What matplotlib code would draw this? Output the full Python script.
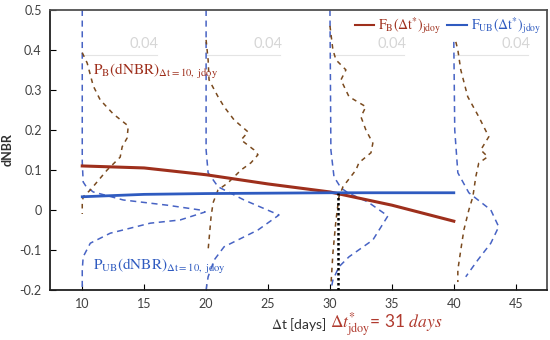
import matplotlib
matplotlib.use("Agg")
import matplotlib.pyplot as plt

plt.rcParams['mathtext.fontset'] = 'stix'
plt.rcParams['font.family'] = ['Lato', 'DejaVu Sans']

# time lags where the distributions are drawn
lags = [10, 20, 30, 40]

# F_B and F_UB curves (dNBR vs lag)
f_days = [10, 15, 20, 25, 30, 35, 40]
f_burned = [0.110, 0.105, 0.088, 0.065, 0.045, 0.012, -0.028]
f_unburned = [0.033, 0.039, 0.041, 0.042, 0.043, 0.043, 0.043]

# burned-pixel dNBR distributions (dNBR level, probability)
pb_y = {
    10: [0.393, 0.367, 0.31, 0.275, 0.24, 0.21, 0.18, 0.158, 0.132, 0.1, 0.05, 0.033, 0.018, -0.01],
    20: [0.425, 0.375, 0.325, 0.283, 0.258, 0.225, 0.195, 0.175, 0.15, 0.138, 0.118, 0.1, 0.068,
         0.05, 0.018, -0.017, -0.1],
    30: [0.46, 0.4, 0.375, 0.35, 0.325, 0.283, 0.258, 0.233, 0.2, 0.167, 0.143, 0.118, 0.1, 0.058,
         0.033, -0.025, -0.108, -0.19],
    40: [0.42, 0.4, 0.35, 0.283, 0.233, 0.183, 0.15, 0.133, 0.117, 0.083, 0.033, 0.0, -0.05, -0.1,
         -0.15, -0.18],
}
pb_p = {
    10: [0, .0032, .0071, .0116, .02, .0297, .029, .0258, .0245, .0161, .0052, .0006, 0, 0],
    20: [0, .0013, .0019, .0077, .0116, .0181, .0271, .0226, .031, .0335, .029, .0226, .0142,
         .0077, .0045, .0032, .0013],
    30: [0, .0019, .0039, .0103, .0071, .0123, .0232, .02, .0232, .0277, .0265, .0187, .0168,
         .0084, .0058, .0039, .0019, .0006],
    40: [.0013, .0026, .0045, .009, .0161, .0226, .0174, .0219, .0161, .0142, .0123, .0097,
         .0065, .0045, .0026, .0026],
}

# unburned-pixel dNBR distributions
pub_y = {
    10: [0.5, 0.12, 0.07, 0.058, 0.045, 0.025, 0.012, 0.0, -0.005, -0.025, -0.033, -0.058, -0.083,
         -0.117, -0.15, -0.2],
    20: [0.5, 0.15, 0.093, 0.058, 0.025, -0.0125, -0.05, -0.092, -0.125, -0.167, -0.2],
    30: [0.5, 0.15, 0.083, 0.055, 0.043, 0.02, -0.015, -0.075, -0.117, -0.142, -0.175, -0.2],
    40: [0.42, 0.2, 0.093, 0.043, 0.0, -0.042, -0.083, -0.125, -0.167],
}
pub_p = {
    10: [0, 0, .0006, .0026, .0071, .0265, .0548, .0761, .0794, .0632, .0439, .0181, .0052, .0006, 0, 0],
    20: [0, 0, .0013, .0077, .0245, .0471, .0335, .0116, .0052, .0013, 0],
    30: [0, .0006, .0026, .0071, .0116, .0245, .0374, .0277, .0123, .0058, .0019, .0006],
    40: [0, .0006, .0026, .0097, .0239, .029, .0239, .0155, .0077],
}

# width in days of one unit of probability
p_scale = 5 / 0.04
optimal_lag = 30.65

red = '#9e2f1c'
blue = '#2f5bc0'
brown_d = '#7a4a1e'
blue_d = '#4763c4'

fig = plt.figure(figsize=(5.5, 3.4), dpi=100)
ax = fig.add_axes([0.091, 0.147, 0.903, 0.824])

# faint probability axes
for t in lags:
    ax.plot([t, t + 6], [0.387, 0.387], color='#e4e4e4', lw=0.8, zorder=0)
    ax.text(t + 5, 0.415, '0.04', color='#d6d6d6', fontsize=10.5, ha='center', va='center', zorder=0)

for t in lags:
    ax.plot([t + p * p_scale for p in pub_p[t]], pub_y[t], color=blue_d, lw=1.1,
            dashes=(4, 3), zorder=2)
    ax.plot([t + p * p_scale for p in pb_p[t]], pb_y[t], color=brown_d, lw=1.1,
            dashes=(3, 3), zorder=2)

ax.plot(f_days, f_burned, color=red, lw=2.2, zorder=3,
        label=r'$\mathrm{F_{B}(\Delta t^{*})_{jdoy}}$')
ax.plot(f_days, f_unburned, color=blue, lw=2.0, zorder=3,
        label=r'$\mathrm{F_{UB}(\Delta t^{*})_{jdoy}}$')

ax.plot([optimal_lag, optimal_lag], [-0.2, 0.043], color='black', lw=1.8,
        linestyle=(0, (1, 1)), zorder=4)

ax.text(10.9, 0.345, r'$\mathrm{P_{B}(dNBR)_{\Delta t=10,\ jdoy}}$', color=red, fontsize=11,
        va='center')
ax.text(10.9, -0.14, r'$\mathrm{P_{UB}(dNBR)_{\Delta t=10,\ jdoy}}$', color=blue, fontsize=11,
        va='center')

leg = ax.legend(loc='upper right', ncol=2, frameon=False, fontsize=10, handlelength=1.4,
                handletextpad=0.3, columnspacing=0.4, borderaxespad=0.0,
                labelcolor=[red, blue])
for h in leg.get_lines():
    h.set_linewidth(1.5)

ax.set_xlim(7.4, 47.5)
ax.set_ylim(-0.2, 0.5)
ax.set_xticks([10, 15, 20, 25, 30, 35, 40, 45])
ax.set_yticks([-0.2, -0.1, 0, 0.1, 0.2, 0.3, 0.4, 0.5])
ax.set_yticklabels(['-0.2', '-0.1', '0', '0.1', '0.2', '0.3', '0.4', '0.5'])
ax.tick_params(direction='in', length=4, labelsize=9, labelcolor='#404040', pad=6)
ax.tick_params(axis='y', pad=6)
for s in ['left', 'bottom']:
    ax.spines[s].set_linewidth(1.3)
    ax.spines[s].set_color('#202020')
for s in ['top', 'right']:
    ax.spines[s].set_linewidth(1.3)
    ax.spines[s].set_color('#505050')

ax.set_ylabel('dNBR', fontsize=9, fontweight='bold', color='#303030', labelpad=4)

fig.text(0.543, 0.045, r'$\Delta$t [days]', fontsize=10, ha='center', va='center', color='#303030')
fig.text(0.6, 0.045, r'$\Delta t^{*}_{\mathrm{jdoy}}$= 31 $days$', fontsize=12.5, ha='left',
         va='center', color='#b03a2e')

fig.savefig('out.png', dpi=100)
